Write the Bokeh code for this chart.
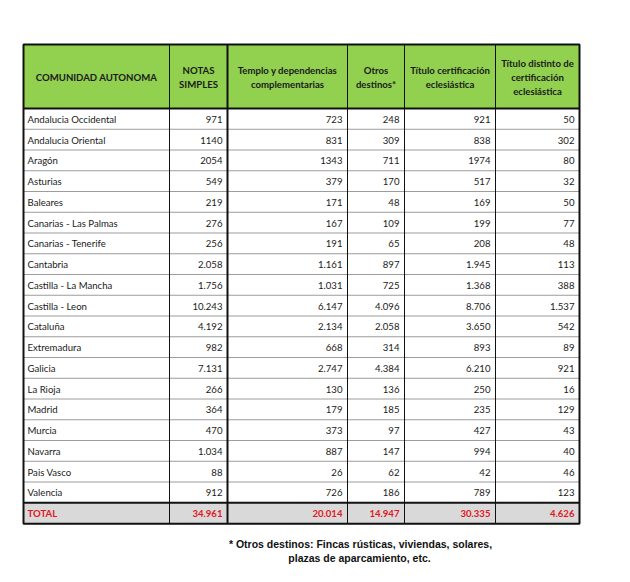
from bokeh.plotting import figure
from bokeh.models import Range1d
from bokeh.embed import file_html
from bokeh.resources import INLINE
from bokeh.core.properties import value

# ---------------- data ----------------
regions = [
    "Andalucia Occidental", "Andalucia Oriental", "Aragón", "Asturias", "Baleares",
    "Canarias - Las Palmas", "Canarias - Tenerife", "Cantabria", "Castilla - La Mancha",
    "Castilla - Leon", "Cataluña", "Extremadura", "Galicia", "La Rioja", "Madrid",
    "Murcia", "Navarra", "Pais Vasco", "Valencia",
]
notas_simples = [971, 1140, 2054, 549, 219, 276, 256, 2058, 1756, 10243, 4192, 982, 7131, 266, 364, 470, 1034, 88, 912]
templo = [723, 831, 1343, 379, 171, 167, 191, 1161, 1031, 6147, 2134, 668, 2747, 130, 179, 373, 887, 26, 726]
otros_destinos = [248, 309, 711, 170, 48, 109, 65, 897, 725, 4096, 2058, 314, 4384, 136, 185, 97, 147, 62, 186]
titulo_cert = [921, 838, 1974, 517, 169, 199, 208, 1945, 1368, 8706, 3650, 893, 6210, 250, 235, 427, 994, 42, 789]
titulo_distinto = [50, 302, 80, 32, 50, 77, 48, 113, 388, 1537, 542, 89, 921, 16, 129, 43, 40, 46, 123]
# the first three rows are printed without a thousands separator in the source
thousand_sep = [False, False, False] + [True] * 16

total_label = "TOTAL"
totals = [34961, 20014, 14947, 30335, 4626]

headers = [
    "COMUNIDAD AUTONOMA",
    "NOTAS\nSIMPLES",
    "Templo y dependencias\ncomplementarias",
    "Otros\ndestinos*",
    "Título certificación\neclesiástica",
    "Título distinto de\ncertificación\neclesiástica",
]
footnote = [
    "* Otros destinos: Fincas rústicas, viviendas, solares,",
    "plazas de aparcamiento, etc.",
]

# ---------------- layout ----------------
col_edges = [23, 169, 227, 347, 404, 495, 579]
table_top = 44
header_h = 64
row_h = 20.75
n_rows = len(regions)
header_bottom = table_top + header_h
total_top = header_bottom + n_rows * row_h
table_bottom = total_top + 21

FONT = value("Lato")
FS = "9.6px"
TXT = "#1a1a1a"
RED = "#e3161e"


def fmt(v, sep):
    s = str(v)
    if sep:
        s = f"{v:,}".replace(",", ".")
    return s


p = figure(width=614, height=566, output_backend="svg", toolbar_location=None,
           x_range=Range1d(0, 614), y_range=Range1d(566, 0),
           x_axis_type=None, y_axis_type=None, min_border=0,
           outline_line_color=None, background_fill_color="white",
           border_fill_color="white")
p.grid.visible = False

# fills
p.quad(left=[col_edges[0]], right=[col_edges[-1]], top=[table_top], bottom=[header_bottom],
       fill_color="#92d050", line_color=None)
p.quad(left=[col_edges[0]], right=[col_edges[-1]], top=[total_top], bottom=[table_bottom],
       fill_color="#d9d9d9", line_color=None)

# row separators
ys = [header_bottom + i * row_h for i in range(1, n_rows)]
p.segment(x0=[col_edges[0]] * len(ys), x1=[col_edges[-1]] * len(ys), y0=ys, y1=ys,
          line_color="#9c9c9c", line_width=1)

# vertical separators
inner = col_edges[1:-1]
widths = [1, 2, 1, 1, 1]
p.segment(x0=inner, x1=inner, y0=[table_top] * len(inner), y1=[table_bottom] * len(inner),
          line_color="#111111", line_width=widths)

# thick lines
p.segment(x0=[col_edges[0]] * 2, x1=[col_edges[-1]] * 2, y0=[header_bottom, total_top],
          y1=[header_bottom, total_top], line_color="#111111", line_width=2)
p.quad(left=[col_edges[0]], right=[col_edges[-1]], top=[table_top], bottom=[table_bottom],
       fill_color=None, line_color="#111111", line_width=2)

# header texts
hx = [(col_edges[i] + col_edges[i + 1]) / 2 for i in range(6)]
p.text(x=hx, y=[table_top + header_h / 2 + 1] * 6, text=headers, text_font=FONT,
       text_font_style="bold", text_font_size=FS, text_align="center",
       text_baseline="middle", text_line_height=1.25, text_color=TXT)

# body
row_y = [header_bottom + (i + 0.5) * row_h + 0.5 for i in range(n_rows)]
p.text(x=[col_edges[0] + 4] * n_rows, y=row_y, text=regions, text_font=FONT,
       text_font_size=FS, text_align="left", text_baseline="middle", text_color=TXT)
cols = [notas_simples, templo, otros_destinos, titulo_cert, titulo_distinto]
for ci, col in enumerate(cols):
    labels = [fmt(v, s) for v, s in zip(col, thousand_sep)]
    p.text(x=[col_edges[ci + 2] - 5] * n_rows, y=row_y, text=labels, text_font=FONT,
           text_font_size=FS, text_align="right", text_baseline="middle", text_color=TXT)

# total row
ty = (total_top + table_bottom) / 2 + 0.5
p.text(x=[col_edges[0] + 4], y=[ty], text=[total_label], text_font=FONT, text_font_style="bold",
       text_font_size=FS, text_align="left", text_baseline="middle", text_color=RED)
p.text(x=[e - 5 for e in col_edges[2:]], y=[ty] * 5, text=[fmt(v, True) for v in totals],
       text_font=FONT, text_font_style="bold", text_font_size=FS, text_align="right",
       text_baseline="middle", text_color=RED)

# footnote
p.text(x=[360, 359], y=[543, 557], text=footnote, text_font=value("Liberation Sans"),
       text_font_style="bold", text_font_size="10.5px", text_align="center",
       text_baseline="middle", text_color="#111111")

open("out.html", "w").write(file_html(p, INLINE))
